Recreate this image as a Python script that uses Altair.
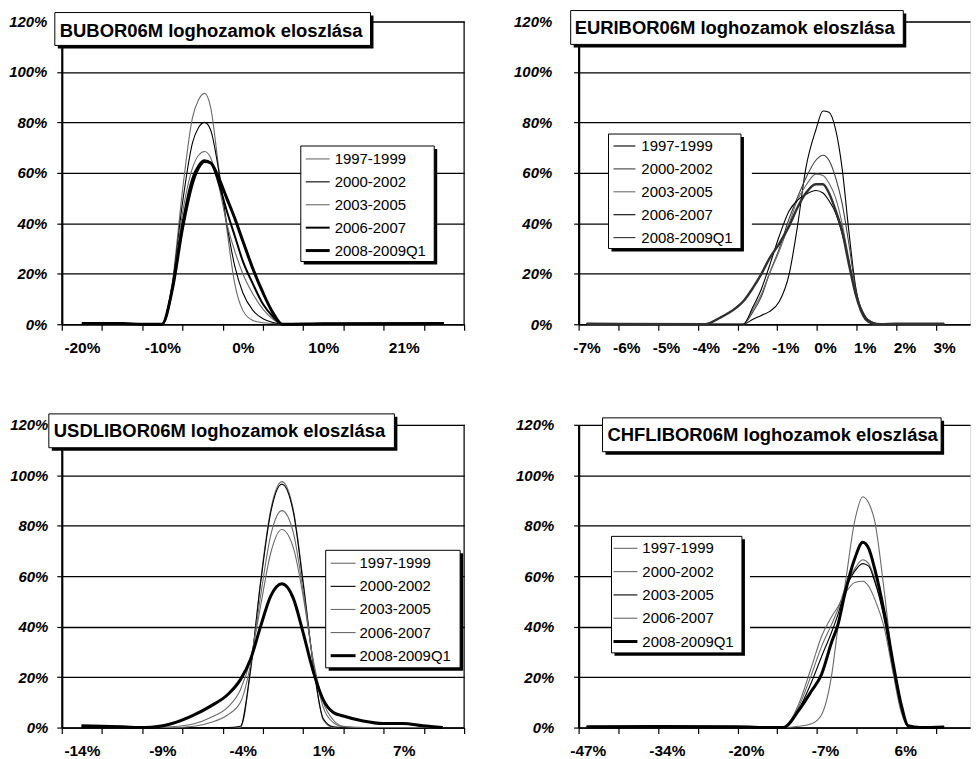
import altair as alt
import pandas as pd

FONT = "Liberation Sans"
SERIES = ["1997-1999", "2000-2002", "2003-2005", "2006-2007", "2008-2009Q1"]
Y_TICKS = [0, 20, 40, 60, 80, 100, 120]

# ---------------- BUBOR06M (positions on the category axis, 0..10) ----------------
BUBOR_TITLE = "BUBOR06M loghozamok eloszlása"
BUBOR_X = [0.5, 1.5, 2.0, 2.49, 2.75, 3.0, 3.25, 3.4, 3.55, 3.7, 3.9, 4.1, 4.3, 4.5, 4.75, 5.0, 5.25, 5.48, 6.5, 9.5]
BUBOR_1997 = [0.3, 0.3, 0, 0, 17, 53, 82, 89, 91.5, 86, 62, 38, 16, 5.5, 1.5, 0.6, 0.3, 0, 0.2, 0.2]
BUBOR_2000 = [0.3, 0.3, 0, 0, 16, 48, 72, 78, 80, 77, 61, 40, 23, 12.5, 5.5, 2.2, 0.7, 0, 0.2, 0.2]
BUBOR_2003 = [0.3, 0.3, 0, 0, 15, 44, 62, 67, 68.5, 66, 55, 40, 29, 20, 12, 6, 2, 0, 0.2, 0.2]
BUBOR_2006 = [0.3, 0.3, 0, 0, 14, 40, 58, 63, 65, 64, 56, 45, 35, 25, 16, 8, 3, 0, 0.2, 0.2]
BUBOR_2008 = [0.3, 0.3, 0, 0, 14, 38, 56, 62, 64.5, 64, 58, 50, 42, 33, 22, 12.5, 4.5, 0, 0.2, 0.3]
BUBOR_TICK_LABELS = ["-20%", "-10%", "0%", "10%", "21%"]
BUBOR_LABEL_POS = [0.5, 2.5, 4.5, 6.5, 8.5]

# ---------------- EURIBOR06M ----------------
EUR_TITLE = "EURIBOR06M loghozamok eloszlása"
EUR_X = [0.2, 3.18, 3.56, 3.97, 4.14, 4.39, 4.6, 4.8, 5.05, 5.3, 5.5, 5.72, 5.97, 6.15, 6.3, 6.47, 6.63, 6.8, 6.97, 7.22, 7.4, 7.6, 8.0, 9.2]
EUR_1997 = [0.2, 0, 0, 0, 0, 2, 3.5, 5, 9, 20, 38, 62, 77, 84.5, 84, 77, 62, 37, 15, 3, 0.8, 0, 0.2, 0.2]
EUR_2000 = [0.2, 0, 0, 0, 0, 5, 11, 20, 30, 42, 50, 58, 65, 67, 65, 58, 48, 32, 14, 3, 0.8, 0, 0.2, 0.2]
EUR_2003 = [0.2, 0, 0, 0, 0, 6, 12, 20, 29, 40, 49, 55, 59.5, 59, 56, 50, 40, 26, 12, 2, 0.5, 0, 0.2, 0.2]
EUR_2006 = [0.2, 0, 0, 0, 0, 7, 14, 23, 35, 45, 49, 51.5, 53, 52, 49, 44, 36, 25, 12, 2.5, 0.5, 0, 0.2, 0.2]
EUR_2008 = [0.2, 0, 2.6, 6.6, 9, 14.5, 20, 26, 32, 39, 46, 52, 55.5, 55.5, 52, 45, 37, 24, 12, 2, 0.3, 0, 0.2, 0.2]
EUR_TICK_LABELS = ["-7%", "-6%", "-5%", "-4%", "-2%", "-1%", "0%", "1%", "2%", "3%"]
EUR_LABEL_POS = [0.2, 1.2, 2.2, 3.2, 4.2, 5.2, 6.2, 7.2, 8.2, 9.2]

# ---------------- USDLIBOR06M ----------------
USD_TITLE = "USDLIBOR06M loghozamok eloszlása"
USD_X = [0.49, 1.5, 2.06, 2.72, 3.29, 3.7, 4.12, 4.44, 4.69, 4.94, 5.19, 5.47, 5.76, 6.0, 6.26, 6.5, 6.75, 7.0, 7.49, 7.98, 8.48, 8.97, 9.47]
USD_1997 = [0, 0, 0, 0, 0, 0, 0, 0, 22, 58, 86, 97.5, 86, 58, 24, 3, 0, 0, 0, 0, 0, 0, 0]
USD_2000 = [0, 0, 0, 0, 0, 0, 0, 0.5, 23, 57, 85, 96.5, 85, 57, 24, 3.5, 0.3, 0, 0, 0, 0, 0, 0]
USD_2003 = [0.5, 0.3, 0, 0, 0.5, 2, 5, 10, 25, 52, 76, 86, 77, 54, 25, 8, 2, 0.3, 0, 0, 0, 0, 0]
USD_2006 = [0.5, 0.3, 0, 0.3, 1.5, 4, 8, 15, 27, 48, 69, 78.5, 71, 52, 26, 10, 3, 0.5, 0, 0, 0, 0, 0]
USD_2008 = [0.7, 0.3, 0, 1.5, 5, 8.5, 13, 19, 27, 40, 52, 57, 51, 37.5, 21.7, 11, 6, 4.6, 2.6, 1.6, 1.6, 0.7, 0]
USD_TICK_LABELS = ["-14%", "-9%", "-4%", "1%", "7%"]
USD_LABEL_POS = [0.5, 2.5, 4.5, 6.5, 8.5]

# ---------------- CHFLIBOR06M ----------------
CHF_TITLE = "CHFLIBOR06M loghozamok eloszlása"
CHF_X = [0.2, 2.0, 4.0, 4.9, 5.15, 5.53, 5.86, 6.11, 6.37, 6.53, 6.7, 6.95, 7.15, 7.3, 7.45, 7.7, 7.91, 8.12, 8.29, 8.6, 9.2]
CHF_1997 = [0.3, 0.3, 0.2, 0, 0, 0.5, 1.5, 5, 21, 40, 56, 82, 91.5, 89, 82, 53, 25, 8, 0.5, 0, 0.2]
CHF_2000 = [0.3, 0.3, 0.2, 0, 0, 8, 21, 32, 41, 47, 55, 63, 66.5, 65, 59, 42, 23, 7, 0.5, 0, 0.2]
CHF_2003 = [0.3, 0.3, 0.2, 0, 0, 7, 18, 28, 38, 45, 54, 62, 65, 64, 58, 43, 24, 7, 0.5, 0, 0.2]
CHF_2006 = [0.3, 0.3, 0.2, 0, 0, 9, 24, 36, 44, 48, 53, 57.5, 58, 56, 51, 39, 22, 6, 0.5, 0, 0.2]
CHF_2008 = [0.3, 0.4, 0.3, 0, 0, 6.6, 14.5, 21, 34, 41, 53, 67, 73.5, 71, 63, 45, 26, 9, 0.7, 0, 0.2]
CHF_TICK_LABELS = ["-47%", "-34%", "-20%", "-7%", "6%"]
CHF_LABEL_POS = [0.23, 2.22, 4.21, 6.2, 8.22]

GRAY = "#6a6a6a"
BLACK = "#000000"

H = 304


def label_expr(pos, labels):
    expr = "''"
    for p, l in reversed(list(zip(pos, labels))):
        expr = f"abs(datum.value - {p}) < 0.001 ? '{l}' : {expr}"
    return expr


def one_row():
    return pd.DataFrame({"k": [0]})


def panel(title, xs, series_vals, tick_labels, label_pos, xmax, width, colors,
          widths, legend_widths, ypad, title_box, title_xy, legend_box, rows_y0,
          rows_step, sample_x, text_x, occ_right, right_border):
    n_ticks = int(xmax) + 1
    vals = sorted(set(list(range(n_ticks)) + label_pos))
    xaxis = alt.Axis(
        values=vals, grid=False, domainColor="black", domainWidth=1.6,
        tickColor="black", tickSize=6, tickWidth=1.2,
        tickOpacity={"condition": {"test": "datum.value % 1 != 0", "value": 0}, "value": 1},
        labelExpr=label_expr(label_pos, tick_labels), labelFont=FONT, labelFontSize=15.5,
        labelFontWeight="bold", labelColor="black", labelPadding=10, labelFlush=False,
        labelOverlap=False, labelBound=False, title=None,
    )
    yaxis = alt.Axis(
        values=Y_TICKS, labelExpr="datum.value + '%'", grid=True, gridColor="black",
        gridWidth=1.3, gridOpacity=1, domainColor="black", domainWidth=2.2,
        tickColor="black", tickSize=5, tickWidth=1.2, labelFont=FONT, labelFontSize=15,
        labelFontWeight="bold", labelFontStyle="italic", labelColor="black",
        labelPadding=ypad, title=None,
    )
    xenc = alt.X("u:Q", scale=alt.Scale(domain=[0, xmax], nice=False, zero=False), axis=xaxis)
    yenc = alt.Y("dens:Q", scale=alt.Scale(domain=[0, 120], nice=False), axis=yaxis)

    layers = []
    for s, ys, c, w in zip(SERIES, series_vals, colors, widths):
        df = pd.DataFrame({"u": xs, "dens": ys, "series": s})
        layers.append(
            alt.Chart(df).mark_line(interpolate="monotone", color=c, strokeWidth=w).encode(x=xenc, y=yenc)
        )

    if right_border:
        layers.append(
            alt.Chart(one_row()).mark_rule(color="black", strokeWidth=1.2).encode(
                x=alt.value(width), y=alt.value(0), y2=alt.value(H))
        )

    # title box
    bx0, by0, bx1, by1 = title_box
    layers.append(alt.Chart(one_row()).mark_rect(color="black").encode(
        x=alt.value(bx0 + 3), x2=alt.value(bx1 + 3), y=alt.value(by0 + 3), y2=alt.value(by1 + 3)))
    layers.append(alt.Chart(one_row()).mark_rect(fill="white", stroke="black", strokeWidth=1).encode(
        x=alt.value(bx0), x2=alt.value(bx1), y=alt.value(by0), y2=alt.value(by1)))
    layers.append(alt.Chart(pd.DataFrame({"t": [title]})).mark_text(
        align="left", baseline="alphabetic", font=FONT, fontSize=18.5, fontWeight="bold",
        color="black").encode(x=alt.value(title_xy[0]), y=alt.value(title_xy[1]), text="t:N"))

    # legend
    lx0, ly0, lx1, ly1 = legend_box
    if occ_right is not None:
        layers.append(alt.Chart(one_row()).mark_rect(color="white").encode(
            x=alt.value(lx0), x2=alt.value(occ_right), y=alt.value(ly0), y2=alt.value(ly1 + 3)))
    layers.append(alt.Chart(one_row()).mark_rect(color="black").encode(
        x=alt.value(lx0 + 3), x2=alt.value(lx1 + 3), y=alt.value(ly0 + 3), y2=alt.value(ly1 + 3)))
    layers.append(alt.Chart(one_row()).mark_rect(fill="white", stroke="black", strokeWidth=1).encode(
        x=alt.value(lx0), x2=alt.value(lx1), y=alt.value(ly0), y2=alt.value(ly1)))
    for i, (s, c, w) in enumerate(zip(SERIES, colors, legend_widths)):
        yy = rows_y0 + i * rows_step
        sdf = pd.DataFrame({"series": [s]})
        layers.append(alt.Chart(sdf).mark_rule(color=c, strokeWidth=w).encode(
            x=alt.value(sample_x[0]), x2=alt.value(sample_x[1]), y=alt.value(yy)))
        layers.append(alt.Chart(sdf).mark_text(
            align="left", baseline="middle", font=FONT, fontSize=15, color="black").encode(
            x=alt.value(text_x), y=alt.value(yy), text="series:N"))

    return alt.layer(*layers).properties(width=width, height=H)


LEFT_W = 404
RIGHT_W = 393

p1 = panel(BUBOR_TITLE, BUBOR_X, [BUBOR_1997, BUBOR_2000, BUBOR_2003, BUBOR_2006, BUBOR_2008],
           BUBOR_TICK_LABELS, BUBOR_LABEL_POS, 10, LEFT_W,
           [GRAY, BLACK, GRAY, BLACK, BLACK], [1.1, 1.1, 1.1, 2, 3], [1.1, 1.1, 1.1, 2, 3], 10,
           (-7, -9, 310, 24), (-2, 15.5), (240, 125, 374, 241), 138, 23, (245, 269), 274, None, True)

p2 = panel(EUR_TITLE, EUR_X, [EUR_1997, EUR_2000, EUR_2003, EUR_2006, EUR_2008],
           EUR_TICK_LABELS, EUR_LABEL_POS, 9.85, RIGHT_W,
           [BLACK, "#404040", GRAY, BLACK, "#303030"], [1.1, 1.1, 1.1, 1.1, 2.4], [1.1, 1.1, 1.1, 1.1, 1.1], 22,
           (-8, -11, 326, 23), (-4, 13), (30, 113, 163, 228), 125, 23, (35, 57), 63, 174, False)

p3 = panel(USD_TITLE, USD_X, [USD_1997, USD_2000, USD_2003, USD_2006, USD_2008],
           USD_TICK_LABELS, USD_LABEL_POS, 10, LEFT_W,
           [GRAY, BLACK, GRAY, GRAY, BLACK], [1.1, 1.1, 1.1, 1.1, 3], [1.1, 1.1, 1.1, 1.1, 3], 9,
           (-13, -11, 334, 23), (-8, 12.5), (265, 126, 400, 244), 139, 23.2, (270, 295), 299, None, True)

p4 = panel(CHF_TITLE, CHF_X, [CHF_1997, CHF_2000, CHF_2003, CHF_2006, CHF_2008],
           CHF_TICK_LABELS, CHF_LABEL_POS, 9.85, RIGHT_W,
           [GRAY, GRAY, BLACK, GRAY, BLACK], [1.1, 1.1, 1.1, 1.1, 3], [1.1, 1.1, 1.1, 1.1, 3], 20,
           (24, -7, 364, 27), (29, 16), (33, 112, 164, 229), 124, 23.4, (35, 59), 64, 172, False)

chart = alt.concat(
    p1, p2, p3, p4, columns=2, spacing={"row": 101, "column": 115}, bounds="flush",
    padding={"left": 0, "top": 0, "right": 0, "bottom": 0},
).configure_view(stroke=None).configure(background="white")

chart.save("out.html", embed_options={"renderer": "svg", "actions": False})
